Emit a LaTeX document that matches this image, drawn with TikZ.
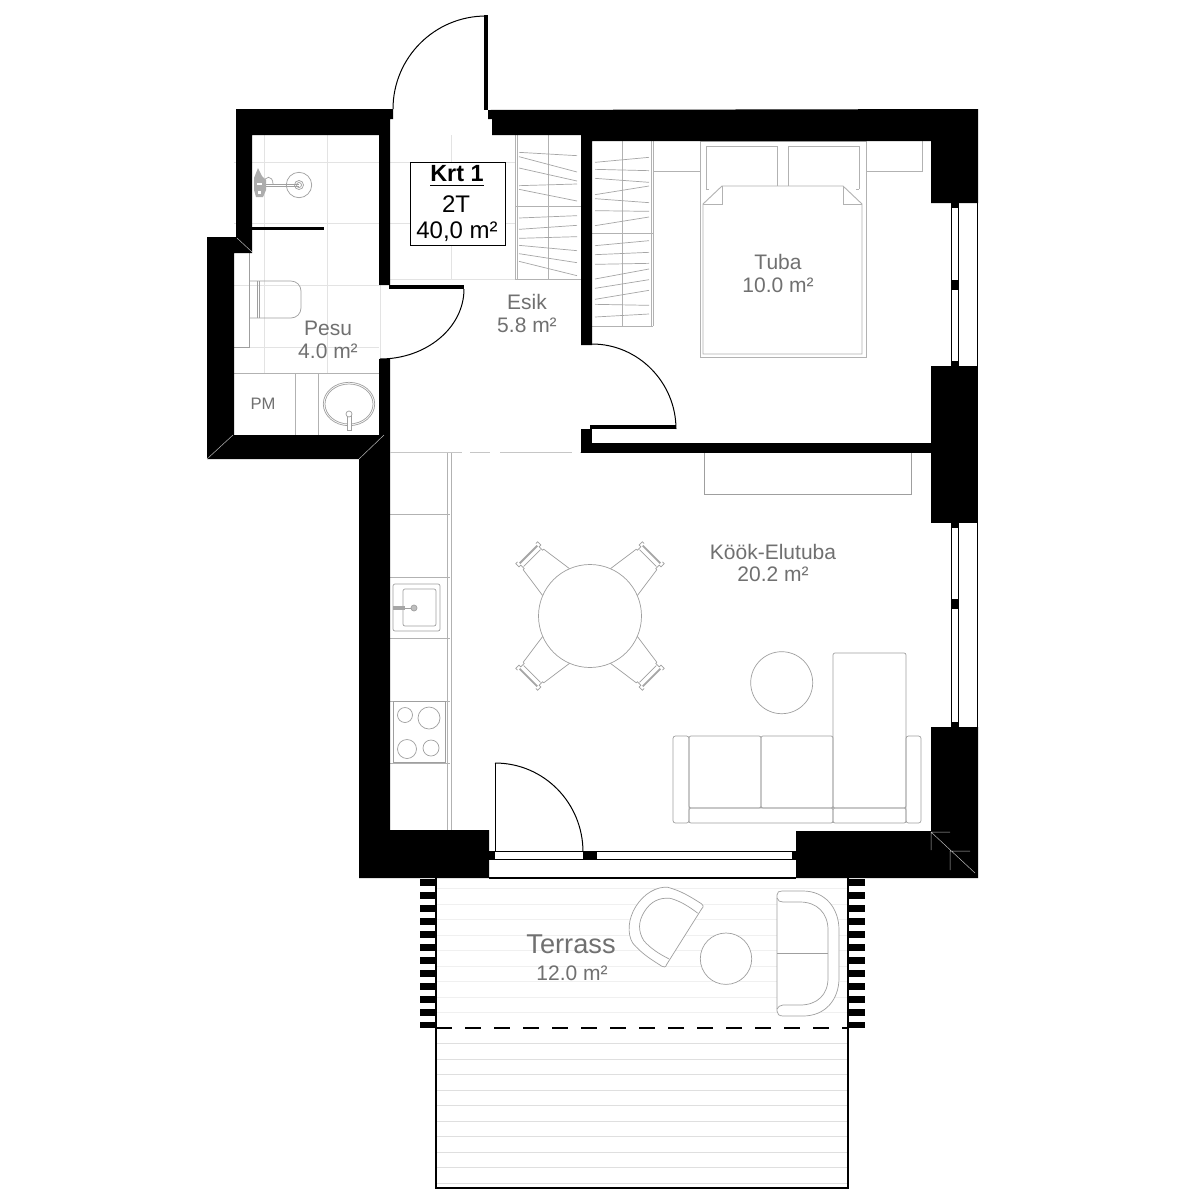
\documentclass[tikz,border=0pt]{standalone}
\usepackage{fontspec}
\setmainfont{Liberation Sans}
\definecolor{lab}{HTML}{707070}
\tikzset{
  wall/.style={fill=black,draw=none},
  tile/.style={draw=gray!22,line width=.4pt},
  deck/.style={draw=gray!12,line width=.45pt},
  furn/.style={draw=gray!75,line width=.35pt},
  furnw/.style={draw=gray!75,line width=.35pt,fill=white},
  hang/.style={draw=gray!70,line width=.35pt},
  rail/.style={draw=gray!60,line width=.45pt},
  doorleaf/.style={draw=black,line width=.5pt},
  wallmark/.style={draw=gray!55,line width=.25pt},
  roomlab/.style={text=lab,inner sep=0pt,font=\fontsize{10.5}{11.5}\selectfont},
}
\begin{document}
\begin{tikzpicture}[x=.5pt,y=-.5pt]
\useasboundingbox (0,0) rectangle (1200,1200);
\fill[white] (0,0) rectangle (1200,1200);

% floor tiles
\foreach \y in {162,223,285,347} \draw[tile] (234,\y) -- (379,\y);
\foreach \x in {264,327} \draw[tile] (\x,135) -- (\x,373);
\foreach \y in {162,223,279} \draw[tile] (390,\y) -- (515,\y);
\draw[tile] (451,135) -- (451,279);
\draw[tile] (380,285) -- (380,359);

% terrace deck boards
\foreach \k in {1,...,9} \draw[deck] (437,{1028-15.5*\k}) -- (847,{1028-15.5*\k});
\foreach \k in {1,...,10} \draw[deck,draw=gray!25] (437,{1028+15.5*\k}) -- (847,{1028+15.5*\k});

% wardrobes
\draw[rail] (515,135) -- (515,279) (517,135) -- (517,279) (515,279) -- (581,279)
  (548,135) -- (548,279) (515,206) -- (581,206);
\foreach \a/\b in {67/77,80/126,114/153,167/162,178/213,264/257,298/286,325/320,346/362,371/398,394/437}
  \draw[hang] (519,{130+\a/3}) -- (577,{130+\b/3});
\draw[rail] (651,141) -- (651,326) (653,141) -- (653,326) (592,326) -- (653,326)
  (622,141) -- (622,326) (592,233) -- (653,233);
\foreach \a/\b in {97/82,118/122,145/157,194/168,206/218,242/244,287/261,347/332,374/367,403/400,447/417,475/449,508/481,523/526,561/552}
  \draw[hang] (595,{130+\a/3}) -- (649,{130+\b/3});

% bedside shelves and bed
\draw[rail] (653,171) -- (700,171) (866,171) -- (922,171) -- (922,141);
\draw[rail] (700,141) rectangle (866,357);
\draw[rail] (706,189) -- (706,146) -- (777,146) -- (777,186);
\draw[rail] (788,186) -- (788,146) -- (859,146) -- (859,189);
\draw[rail] (706,189) -- (709,189) (859,189) -- (856,189);
\fill[white] (703,204) -- (722,186) -- (843,186) -- (862,204) -- cycle;
\draw[rail] (703,204) -- (722,186) -- (843,186) -- (862,204) -- (862,354) -- (703,354) -- cycle;
\draw[rail] (703,204) -- (722,204) -- (722,186) (843,186) -- (843,204) -- (862,204);
\draw[furn] (704,453) -- (704,494) -- (911,494) -- (911,453);

% kitchen
\draw[rail] (447,453) -- (447,830) (451,453) -- (451,830);
\foreach \y in {514,577,638,701,763} \draw[rail] (390,\y) -- (450,\y);
\draw[furn,rounded corners=1pt] (393,584) rectangle (440,631);
\draw[furn,rounded corners=1pt] (403,589) rectangle (436,626);
\fill[gray!70] (393,606) rectangle (405,610);
\draw[furn] (405,608) -- (414,608);
\draw[furn,fill=gray!50] (414,608) circle[radius=3];
\draw[furn] (393,701) rectangle (445,762);
\draw[furn] (405,715) circle[radius=7.5];
\draw[furn] (429,718) circle[radius=11];
\draw[furn] (407,749) circle[radius=9.5];
\draw[furn] (431,748) circle[radius=8];

% dining chairs and table
\foreach \a in {45,135,225,315}{
  \begin{scope}[shift={(590,616)},rotate=\a]
    \draw[furn] (48,-19) -- (80,-14.5) (48,19) -- (80,14.5);
    \draw[draw=gray!70,line width=.9pt] (87,-12.5) -- (87,12.5);
    \draw[furn] (82,-12) -- (82,12);
    \draw[furn] (80,-14.5) -- (80,-13) -- (85,-13) -- (85,-15.5) -- (89.5,-15.5) -- (89.5,-13)
                (80,14.5) -- (80,13) -- (85,13) -- (85,15.5) -- (89.5,15.5) -- (89.5,13);
  \end{scope}
}
\draw[furn] (590,616) circle[radius=51.5];

% living room
\draw[furn] (781.7,682.7) circle[radius=31];
\draw[furn,rounded corners=1.2pt] (673,736) rectangle (689,823);
\draw[furn,rounded corners=1.2pt] (906,736) rectangle (921,823);
\draw[furn,rounded corners=1pt] (689,736) rectangle (761,808);
\draw[furn,rounded corners=1pt] (761,736) rectangle (833,808);
\draw[furn,rounded corners=1pt] (689,808) rectangle (833,823);
\draw[furn,rounded corners=1pt] (833,653) rectangle (906,808);
\draw[furn,rounded corners=1pt] (833,808) rectangle (906,823);

% bathroom fittings
\draw[furn] (249,253) -- (249,347) -- (234,347);
\draw[furn,rounded corners=5pt] (249,281) -- (301,281) -- (301,318) -- (249,318);
\draw[furn] (249,281) -- (249,318) (257,281) -- (257,318) (259,281) -- (259,318);
\draw[rail] (234,373) -- (379,373) (295,373) -- (295,435) (318,373) -- (318,435);
\draw[furn] (349,404) ellipse[x radius=25.7,y radius=21.7];
\draw[furn] (349,404) ellipse[x radius=24,y radius=20];
\draw[furnw] (347,414) rectangle (351,430);
\draw[furnw] (349,414) circle[radius=3];
\draw[furn] (299,185) circle[radius=12.7];
\draw[furn] (299,185) circle[radius=4.5];
\draw[furn] (299,185) circle[radius=2.5];
\draw[furn,line width=.5pt] (262,184) -- (299,184) (262,186.5) -- (299,186.5);
\draw[furn] (264,184) .. controls (264,175) and (273,175) .. (273,184);
\fill[gray!65] (254,178) -- (258,168) -- (262,176) -- (266,180) -- (266,190) -- (263,197) -- (256,197) -- (254,190) -- cycle;
\fill[white] (257,183) rectangle (262,185);
\fill[white] (258,191) rectangle (261,194);

% walls
\fill[wall] (236,109) -- (393,109) -- (393,119) -- (390,119) -- (390,285) -- (379,285)
  -- (379,135) -- (252,135) -- (252,253) -- (234,253) -- (234,435) -- (379,435)
  -- (379,359) -- (390,359) -- (390,830) -- (489,830) -- (489,878) -- (359,878)
  -- (359,459) -- (207,459) -- (207,237) -- (236,237) -- cycle;
\fill[wall] (488,110) -- (488,119) -- (492,119) -- (492,135) -- (581,135) -- (581,345)
  -- (592,345) -- (592,141) -- (931,141) -- (931,203) -- (978,203) -- (978,109) -- cycle;
\fill[wall] (931,366) rectangle (978,523);
\fill[wall] (581,443) rectangle (931,453);
\fill[wall] (581,429) rectangle (592,453);
\fill[wall] (931,727) -- (978,727) -- (978,878) -- (796,878) -- (796,831) -- (931,831) -- cycle;
\fill[wall] (252,227) rectangle (324,230);

% marks inside walls
\draw[wallmark] (207,459) -- (233,435) (359,459) -- (384,435) (237,238) -- (252,252)
  (931,832) -- (975,873) (950,851) -- (970,851) (950,851) -- (950,870) (931,832) -- (950,832) (931,832) -- (931,850);

% faint line between hall and kitchen
\draw[draw=gray!45,line width=.4pt,dash pattern=on 36pt off 4pt on 10pt off 5pt] (390,452.7) -- (581,452.7);

% windows
\foreach \t/\m/\b in {203/285/366,523/604/727}{
  \draw[black,line width=.5pt] (951,\t) -- (951,\b) (958,\t) -- (958,\b) (977.5,\t) -- (977.5,\b);
  \fill[black] (951,\t) rectangle (958,{\t+5});
  \fill[black] (951,{\b-5}) rectangle (958,\b);
  \fill[black] (951,{\m-5}) rectangle (958,{\m+5});
}

% doors
\fill[black] (484,15) rectangle (488,110);
\draw[doorleaf] (486,16) .. controls (434.6,16) and (393,57.6) .. (393,109);
\fill[black] (389,285) rectangle (464,289);
\draw[doorleaf] (464,289) .. controls (464,327.7) and (426.4,359) .. (380,359);
\fill[black] (590,425) rectangle (676,429);
\draw[doorleaf] (592,344) .. controls (638.4,344) and (676,382.6) .. (676,429);
\draw[doorleaf] (495,763) -- (495,852);
\draw[doorleaf] (495,763) .. controls (544,763) and (583,803) .. (583,852);

% terrace door sill
\draw[black,line width=.5pt] (489,851) -- (796,851) (489,859) -- (796,859);
\draw[black,line width=.6pt] (489,878) -- (796,878);
\fill[black] (489,851) rectangle (495,859);
\fill[black] (583,851) rectangle (597,859);
\fill[black] (792,851) rectangle (796,859);

% terrace frame
\draw[black,line width=.55pt] (436,878) -- (436,1188) -- (848,1188) -- (848,878);
\foreach \k in {0,...,11}{
  \fill[black] (420,{882.7+12.95*\k-3.3}) rectangle (436,{882.7+12.95*\k+3.3});
  \fill[black] (848,{882.7+12.95*\k-3.3}) rectangle (865,{882.7+12.95*\k+3.3});
}
\draw[black,line width=.7pt,dash pattern=on 8pt off 6.5pt] (436,1028) -- (848,1028);

% terrace armchair
\begin{scope}[shift={(682.5,935.5)},rotate=147.8]
  \draw[furnw] (-2,33) .. controls (-3,36) and (-1,37) .. (1,37) .. controls (15,37) and (25,37) .. (38,33)
     .. controls (48,28) and (55,15) .. (55,0) .. controls (55,-15) and (48,-28) .. (38,-33)
     .. controls (25,-37) and (15,-37) .. (1,-37) .. controls (-1,-37) and (-3,-36) .. (-2,-33) -- cycle;
  \draw[furn] (-1,27) .. controls (10,28) and (20,28) .. (30,25) .. controls (40,20) and (45,12) .. (45,0)
     .. controls (45,-12) and (40,-20) .. (30,-25) .. controls (20,-28) and (10,-28) .. (-1,-27);
\end{scope}
% terrace table
\draw[furnw] (726,958.7) circle[radius=25.7];
% terrace sofa
\draw[furnw] (777,895) .. controls (777,892) and (779,891) .. (782,891) -- (803,891)
   .. controls (825,891) and (839,908) .. (839,930) -- (839,978)
   .. controls (839,1000) and (825,1016) .. (803,1016) -- (783,1016)
   .. controls (779,1016) and (777,1014) .. (777,1011) -- cycle;
\draw[furn] (777,898) .. controls (778,901) and (780,902) .. (783,902) -- (800,902)
   .. controls (817,902) and (828,913) .. (828,930) -- (828,978)
   .. controls (828,995) and (817,1005) .. (800,1005) -- (783,1005)
   .. controls (780,1005) and (778,1007) .. (777,1009);
\draw[furn] (777,953) -- (828,953);

% labels
\node[roomlab] (pesu) at (328,328) {Pesu};
\node[roomlab] (pesua) at (328,351) {4.0 m²};
\node[roomlab] (esik) at (527,302) {Esik};
\node[roomlab] (esika) at (527,325) {5.8 m²};
\node[roomlab] (tuba) at (778,262) {Tuba};
\node[roomlab] (tubaa) at (778,285) {10.0 m²};
\node[roomlab] (kook) at (773,552) {Köök-Elutuba};
\node[roomlab] (kooka) at (773,574) {20.2 m²};
\node[roomlab,font=\fontsize{8.3}{10}\selectfont] (pm) at (263,404) {PM};
\node[roomlab,font=\fontsize{13.6}{15}\selectfont] (terrass) at (571,944) {Terrass};
\node[roomlab] (terrassa) at (572,973) {12.0 m²};

% apartment box
\draw[black,line width=.45pt,fill=white] (410,162) rectangle (505,245);
\node[inner sep=0pt,font=\fontsize{11.7}{13}\selectfont\bfseries] (krt) at (457,176) {\underline{Krt 1}};
\node[inner sep=0pt,font=\fontsize{12}{13}\selectfont] (tt) at (456,204) {2T};
\node[inner sep=0pt,font=\fontsize{12}{13}\selectfont] (area) at (457,232) {40,0 m²};
\end{tikzpicture}
\end{document}
